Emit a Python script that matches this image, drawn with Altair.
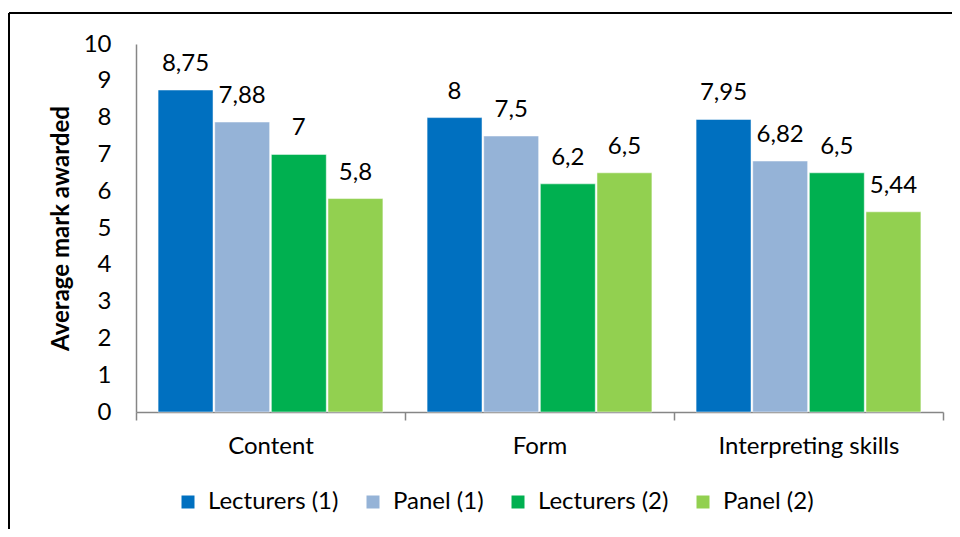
import altair as alt
import pandas as pd

categories = ["Content", "Form", "Interpreting skills"]
series = ["Lecturers (1)", "Panel (1)", "Lecturers (2)", "Panel (2)"]
colors = ["#0070C0", "#95B3D7", "#00B050", "#92D050"]
lecturers_1 = [8.75, 8.0, 7.95]
panel_1 = [7.88, 7.5, 6.82]
lecturers_2 = [7.0, 6.2, 6.5]
panel_2 = [5.8, 6.5, 5.44]
y_ticks = [0, 1, 2, 3, 4, 5, 6, 7, 8, 9, 10]

rows = []
for s, vals in zip(series, [lecturers_1, panel_1, lecturers_2, panel_2]):
    for c, v in zip(categories, vals):
        rows.append({"category": c, "series": s, "value": v,
                     "label": ("%g" % v).replace(".", ",")})
df = pd.DataFrame(rows)

FONT = "Lato"
W, H = 807, 368

x = alt.X("category:N", sort=categories,
          scale=alt.Scale(paddingInner=0, paddingOuter=0),
          axis=alt.Axis(title=None, labelAngle=0, tickBand="extent", tickSize=8,
                        tickColor="#868686", tickWidth=1.5, domainColor="#868686",
                        domainWidth=1.5, labelFontSize=24, labelFont=FONT,
                        labelColor="#000000", labelPadding=14, labelBaseline="top",
                        labelLimit=0))
xoff = alt.XOffset("series:N", sort=series,
                   scale=alt.Scale(paddingInner=0.03, paddingOuter=0.39))
y = alt.Y("value:Q", scale=alt.Scale(domain=[0, 10], nice=False),
          axis=alt.Axis(title="Average mark awarded", values=y_ticks,
                        labelOverlap=False, labelFlush=False,
                        ticks=False, grid=False, domainColor="#868686", domainWidth=1.5,
                        labelFontSize=24, labelFont=FONT, labelColor="#000000",
                        labelPadding=25, titleFont=FONT, titleFontSize=24,
                        titleFontWeight="bold", titleColor="#000000", titleAngle=-90,
                        titleX=-75, titleY=H / 2, titleAlign="center",
                        titleBaseline="middle"))
color = alt.Color("series:N", sort=series,
                  scale=alt.Scale(domain=series, range=colors),
                  legend=alt.Legend(title=None, orient="none", legendX=40, legendY=446,
                                    direction="horizontal", columns=4,
                                    symbolType="square", symbolSize=169,
                                    symbolStrokeWidth=0, labelFontSize=24,
                                    labelFont=FONT, labelColor="#000000",
                                    labelOffset=8, columnPadding=22))

base = alt.Chart(df)
bars = base.mark_bar(stroke="white", strokeWidth=0.5).encode(
    x=x, xOffset=xoff, y=y, color=color)
texts = base.mark_text(fontSize=24, font=FONT, color="#000000", dy=-19,
                       baseline="alphabetic", align="center").encode(
    x=x, xOffset=xoff, y=y, text="label:N")

frame_top = alt.Chart(df).mark_rule(color="#000000", strokeWidth=2).encode(
    x=alt.value(-127), x2=alt.value(830), y=alt.value(-31))
frame_left = alt.Chart(df).mark_rule(color="#000000", strokeWidth=2).encode(
    x=alt.value(-127), y=alt.value(-31), y2=alt.value(530))

chart = alt.layer(bars, texts, frame_top, frame_left).properties(
    width=W, height=H,
    autosize=alt.AutoSizeParams(type="none"),
    padding={"left": 128, "top": 36, "right": 9, "bottom": 117},
).configure_view(stroke=None).configure_axisY(labelOverlap=False)

chart.save("out.html", embed_options={"renderer": "svg", "actions": False})
